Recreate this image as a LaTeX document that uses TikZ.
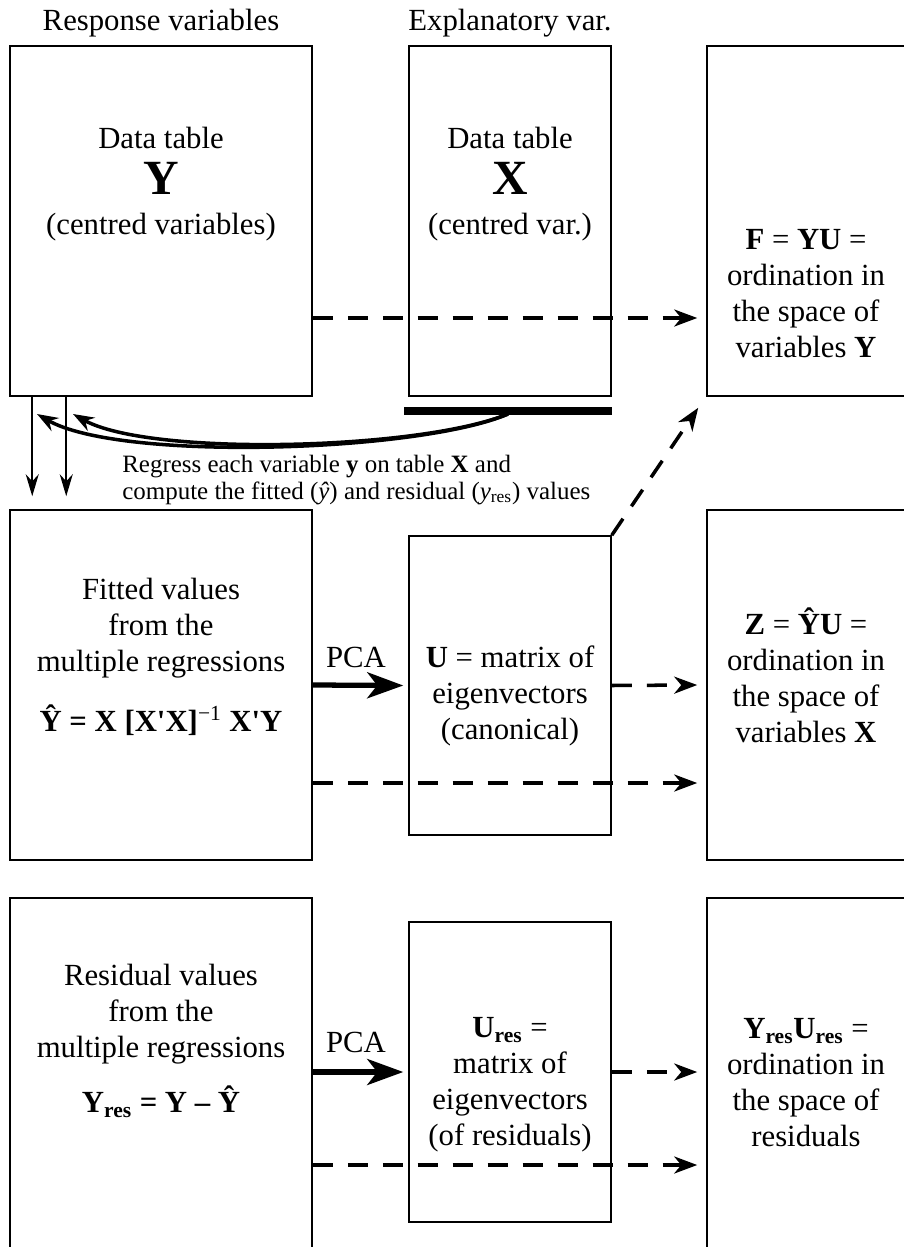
\documentclass[tikz,border=0pt]{standalone}
\usepackage{fontspec}
\setmainfont{Liberation Serif}
\usetikzlibrary{arrows.meta,positioning,calc}
\newcommand{\qt}{\textquotesingle}

\begin{document}
\begin{tikzpicture}[x=0.02cm, y=-0.02cm, font=\fontsize{17.5}{20.5}\selectfont,
  box/.style={draw, line width=0.9pt, inner sep=0pt},
  txt/.style={align=center, inner sep=0pt},
  dasharr/.style={-{Stealth[length=0.46cm, width=0.34cm, inset=0.14cm]}, line width=2pt, dash pattern=on 0.4cm off 0.3cm},
  pcaarr/.style={-{Stealth[length=0.72cm, width=0.52cm, inset=0.2cm]}, line width=3pt},
  thinarr/.style={-{Stealth[length=0.44cm, width=0.26cm, inset=0.14cm]}, line width=0.9pt},
  curvarr/.style={-{Stealth[length=0.42cm, width=0.3cm, inset=0.14cm]}, line width=2pt}]
\useasboundingbox (0,0) rectangle (903,1247);
% boxes
\node[box, minimum width=6.04cm, minimum height=7cm] (ytab) at (161,221) {};
\node[box, minimum width=4.04cm, minimum height=7cm] (xtab) at (510,221) {};
\node[box, minimum width=4.4cm, minimum height=7cm] (ftab) at (817,221) {};
\node[box, minimum width=6.04cm, minimum height=7cm] (fitted) at (161,685) {};
\node[box, minimum width=4.04cm, minimum height=5.98cm] (ucan) at (510,685.5) {};
\node[box, minimum width=4.4cm, minimum height=7cm] (zord) at (817,685) {};
\node[box, minimum width=6.04cm, minimum height=7.12cm] (resid) at (161,1076) {};
\node[box, minimum width=4.04cm, minimum height=6cm] (ures) at (510,1072) {};
\node[box, minimum width=4.4cm, minimum height=7.12cm] (rord) at (817,1076) {};
% headings
\node[above=0.04cm of ytab] (resplbl) {Response variables};
\node[above=0.04cm of xtab] (expllbl) {Explanatory var.};
% texts
\node[txt] (ytxt) at (161,184) {Data table\\[6pt]{\fontsize{28}{30}\selectfont\bfseries Y}\\[2pt](centred variables)};
\node[txt] (xtxt) at (510,184) {Data table\\[6pt]{\fontsize{28}{30}\selectfont\bfseries X}\\[2pt](centred var.)};
\node[txt] (ftxt) at (806,294) {\textbf{F} = \textbf{YU} =\\ordination in\\the space of\\variables \textbf{Y}};
\node[txt] (fittxt) at (161,657) {Fitted values\\from the\\multiple regressions\\[14pt]\textbf{\^{Y} = X [X\qt X]\textsuperscript{\mdseries −1} X\qt Y}};
\node[txt] (ucantxt) at (510,696) {\textbf{U} = matrix of\\eigenvectors\\(canonical)};
\node[txt] (zordtxt) at (806,675) {\textbf{Z} = \textbf{\^{Y}U} =\\ordination in\\the space of\\variables \textbf{X}};
\node[txt] (restxt) at (161,1041) {Residual values\\from the\\multiple regressions\\[11pt]\textbf{Y\textsubscript{res} = Y – \^{Y}}};
\node[txt] (urestxt) at (510,1085) {\textbf{U\textsubscript{res}} =\\matrix of\\eigenvectors\\(of residuals)};
\node[txt] (rordtxt) at (806,1083) {\textbf{Y\textsubscript{res}U\textsubscript{res}} =\\ordination in\\the space of\\residuals};
\node[align=left, anchor=west, inner sep=0pt, font=\fontsize{14.2}{14.9}\selectfont] (regtxt) at (122,480) {Regress each variable \textbf{y} on table \textbf{X} and\\compute the fitted (\textit{\^{y}}) and residual (\textit{y}\textsubscript{res}) values};
\node (pcaa) at (356,657) {PCA};
\node (pcab) at (356,1042) {PCA};
% regression
\draw[thinarr] ($(ytab.south west)+(23,0)$) -- ($(fitted.north west)+(23,-13)$);
\draw[thinarr] ($(ytab.south west)+(57,0)$) -- ($(fitted.north west)+(57,-13)$);
\coordinate (barl) at (404,411);
\coordinate (barr) at (612,411);
\coordinate (barmid) at (508,414);
\coordinate (tipa) at (37,414);
\coordinate (tipb) at (73,414);
\draw[line width=4pt] (barl) -- (barr);
\draw[curvarr] (barmid) .. controls (420,452) and (120,462) .. (tipa);
\draw[curvarr] (barmid) .. controls (420,450) and (150,457) .. (tipb);
% ordinations
\draw[dasharr] ($(ytab.east)+(0,97)$) -- ($(ftab.west)+(-9,97)$);
\draw[dasharr] (ucan.north east) -- ($(ftab.south west)+(-8,11)$);
\draw[pcaarr] (fitted.east) -- ($(ucan.west)+(-5,0)$);
\draw[dasharr] (ucan.east) -- ($(zord.west)+(-9,0)$);
\draw[dasharr] ($(fitted.east)+(0,98)$) -- ($(zord.west)+(-9,98)$);
\draw[pcaarr] (resid.east |- ures.west) -- ($(ures.west)+(-5,0)$);
\draw[dasharr] (ures.east) -- ($(ures.east -| rord.west)+(-9,0)$);
\draw[dasharr] ($(resid.east |- ures.west)+(0,93)$) -- ($(ures.west -| rord.west)+(-9,93)$);
\end{tikzpicture}
\end{document}
